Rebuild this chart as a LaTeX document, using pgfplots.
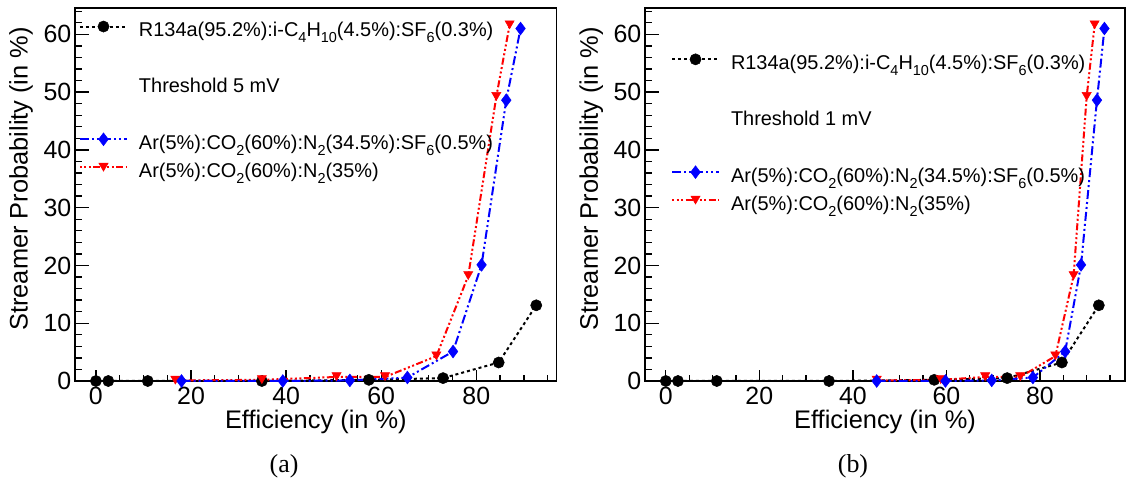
\documentclass[border=0pt]{standalone}
\usepackage{fontspec}
\setmainfont{Liberation Sans}
\newfontfamily\capfont{Liberation Serif}
\usepackage{pgfplots}
\pgfplotsset{compat=1.18}
\newcommand\sub[1]{\raisebox{-6.5bp}{\fontsize{14.5}{14.5}\selectfont #1}}
\newcommand\row[1]{\raisebox{0pt}[21.4bp][7.4bp]{#1}}
\pgfplotsset{
  rootstyle/.style={
    scale only axis, height=372.7bp,
    ymin=0, ymax=64.5,
    ytick={0,10,...,60}, minor ytick={2,4,...,64},
    xtick={0,20,...,80}, minor xtick={5,10,...,95},
    tick align=inside, xtick pos=left, ytick pos=left,
    axis line style={line width=1.6bp},
    tick style={black, line width=1.3bp},
    xtick style={/pgfplots/major tick length=11bp, /pgfplots/minor tick length=5.5bp},
    ytick style={/pgfplots/major tick length=14bp, /pgfplots/minor tick length=7bp},
    tick label style={font=\fontsize{25}{30}\selectfont},
    /pgf/number format/assume math mode=true,
    xticklabel style={inner sep=0pt, yshift=-5.7bp},
    yticklabel style={inner sep=0pt, xshift=-3.5bp},
    label style={font=\fontsize{25.5}{30}\selectfont, inner sep=0pt},
    xlabel={Efficiency (in \%)},
    ylabel={Streamer Probability (in \%)},
    xlabel style={at={(axis description cs:0.5,0)}, anchor=base, yshift=-47bp},
    ylabel style={at={(axis description cs:-0.112,0.95)}, anchor=east},
    clip=false,
    legend cell align=left,
    legend style={draw=none, fill=none, inner sep=0pt, outer sep=0pt,
      nodes={inner sep=0pt}, row sep=5.3bp, column sep=11bp,
      font=\fontsize{20}{24}\selectfont, cells={anchor=west}},
    legend image code/.code={\draw[mark repeat=2,mark phase=2,##1] plot coordinates {(0bp,0bp) (23.5bp,0bp) (47bp,0bp)};},
  },
  blackser/.style={black, line width=2bp, dash pattern=on 3bp off 3bp, mark=*, mark size=5.6bp, mark options={solid, line width=0.5bp, fill=black}},
  blueser/.style={blue, line width=2bp, dash pattern=on 9bp off 3bp on 2bp off 3bp on 2bp off 3bp, mark=diamond*, mark size=6.4bp, mark options={solid, line width=0.5bp, fill=blue}},
  redser/.style={red, line width=2bp, dash pattern=on 2bp off 2.5bp on 2bp off 2.5bp on 2bp off 2.5bp on 7bp off 2.5bp, mark=triangle*, mark size=5.3bp, mark options={solid, line width=0.5bp, fill=red, yshift=1.6bp, rotate=180}},
}
\begin{document}
\begin{tikzpicture}
\path[use as bounding box] (0,0) rectangle (1126bp,487bp);
% ---------------- (a) ----------------
\begin{axis}[rootstyle, at={(75bp,106bp)}, anchor=south west, width=481.7bp,
  xmin=-4.4, xmax=96.9,
  legend style={at={(axis description cs:0.0083,0.9818)}, anchor=north west}]
\addplot[blackser, forget plot] coordinates {(0,0) (2.6,0) (10.9,0) (34.9,0) (57.4,0.2) (73.0,0.5) (84.7,3.2) (92.6,13.1)};
\addplot[redser, forget plot] coordinates {(16.7,0.1) (34.9,0.2) (50.6,0.7) (60.8,0.7) (71.6,4.3) (78.3,18.2) (84.2,49.2) (87.0,61.6)};
\addplot[blueser, forget plot] coordinates {(18.0,0) (39.3,0) (53.4,0.1) (65.5,0.6) (75.1,5.1) (81.1,20.1) (86.3,48.6) (89.3,61.0)};
\addlegendimage{blackser}
\addlegendentry{\row{R134a(95.2\%):i-C\sub{4}H\sub{10}(4.5\%):SF\sub{6}(0.3\%)}}
\addlegendimage{empty legend}
\addlegendentry{\row{}}
\addlegendimage{empty legend}
\addlegendentry{\row{Threshold 5 mV}}
\addlegendimage{empty legend}
\addlegendentry{\row{}}
\addlegendimage{blueser}
\addlegendentry{\row{Ar(5\%):CO\sub{2}(60\%):N\sub{2}(34.5\%):SF\sub{6}(0.5\%)}}
\addlegendimage{redser}
\addlegendentry{\row{Ar(5\%):CO\sub{2}(60\%):N\sub{2}(35\%)}}
\end{axis}
% ---------------- (b) ----------------
\begin{axis}[rootstyle, at={(645bp,106bp)}, anchor=south west, width=480bp,
  xmin=-4.45, xmax=98.2,
  legend style={at={(axis description cs:0.0542,0.8937)}, anchor=north west}]
\addplot[blackser, forget plot] coordinates {(0,0) (2.6,0) (10.9,0) (34.9,0) (57.4,0.2) (73.0,0.5) (84.7,3.2) (92.6,13.1)};
\addplot[redser, forget plot] coordinates {(45.1,0.1) (58.8,0.2) (68.3,0.7) (75.8,0.7) (83.3,4.3) (87.2,18.2) (90.0,49.2) (91.7,61.6)};
\addplot[blueser, forget plot] coordinates {(45.1,0) (59.8,0) (69.7,0.1) (78.5,0.6) (85.4,5.1) (88.8,20.1) (92.2,48.6) (93.8,61.0)};
\addlegendimage{blackser}
\addlegendentry{\row{R134a(95.2\%):i-C\sub{4}H\sub{10}(4.5\%):SF\sub{6}(0.3\%)}}
\addlegendimage{empty legend}
\addlegendentry{\row{}}
\addlegendimage{empty legend}
\addlegendentry{\row{Threshold 1 mV}}
\addlegendimage{empty legend}
\addlegendentry{\row{}}
\addlegendimage{blueser}
\addlegendentry{\row{Ar(5\%):CO\sub{2}(60\%):N\sub{2}(34.5\%):SF\sub{6}(0.5\%)}}
\addlegendimage{redser}
\addlegendentry{\row{Ar(5\%):CO\sub{2}(60\%):N\sub{2}(35\%)}}
\end{axis}
\node[font=\capfont\fontsize{26}{30}\selectfont] at (284bp,21bp) {(a)};
\node[font=\capfont\fontsize{26}{30}\selectfont] at (853bp,21bp) {(b)};
\end{tikzpicture}
\end{document}
